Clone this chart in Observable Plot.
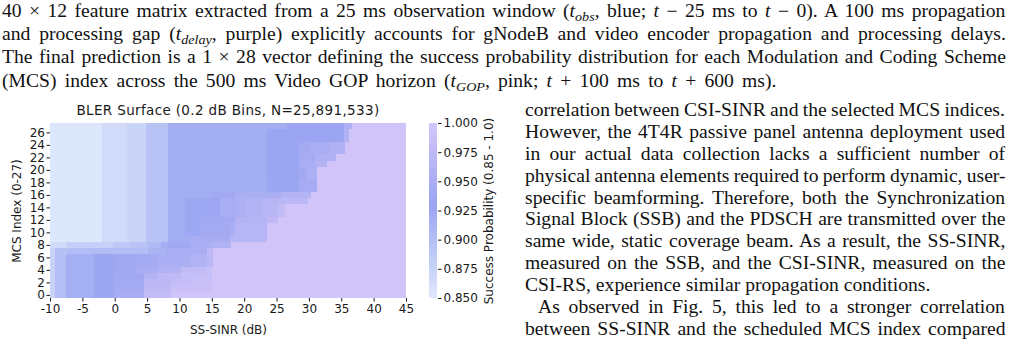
<!DOCTYPE html>
<html><head><meta charset="utf-8">
<script src="https://cdn.jsdelivr.net/npm/d3@7"></script>
<script src="https://cdn.jsdelivr.net/npm/@observablehq/plot@0.6"></script>
<style>
html,body{margin:0;padding:0;background:#fff;}
body{width:1026px;height:343px;overflow:hidden;position:relative;font-family:"Liberation Serif","Times New Roman",serif;color:#111;}
.ln{position:absolute;font-size:18px;line-height:20px;height:20px;white-space:nowrap;transform-origin:0 0;}
.ln sub{font-size:0.72em;line-height:0;vertical-align:-0.28em;font-style:italic;}
#title{position:absolute;left:28px;width:400px;top:102.5px;text-align:center;font-family:"DejaVu Sans";font-size:13.5px;letter-spacing:0.35px;line-height:15px;color:#1a1a1a;}
#main{position:absolute;left:0;top:95px;}
#cbar{position:absolute;left:400px;top:95px;}
</style></head><body>
<div id="text"></div>
<div id="title">BLER Surface (0.2 dB Bins, N=25,891,533)</div>
<div id="main"></div>
<div id="cbar"></div>
<script>
// ---------- text (real text, absolutely positioned lines) ----------
const topLines = [
  '40 × 12 feature matrix extracted from a 25 ms observation window (<i>t</i><sub>obs</sub>, blue; <i>t</i> − 25 ms to <i>t</i> − 0). A 100 ms propagation',
  'and processing gap (<i>t</i><sub>delay</sub>, purple) explicitly accounts for gNodeB and video encoder propagation and processing delays.',
  'The final prediction is a 1 × 28 vector defining the success probability distribution for each Modulation and Coding Scheme',
  '(MCS) index across the 500 ms Video GOP horizon (<i>t</i><sub>GOP</sub>, pink; <i>t</i> + 100 ms to <i>t</i> + 600 ms).'
];
const topBaselines = [17.0, 40.2, 63.4, 86.6];
const topWidths = [1003.5, 1003.5, 1003.5, 774];
const rightLines = [
  'correlation between CSI-SINR and the selected MCS indices.',
  'However, the 4T4R passive panel antenna deployment used',
  'in our actual data collection lacks a sufficient number of',
  'physical antenna elements required to perform dynamic, user-',
  'specific beamforming. Therefore, both the Synchronization',
  'Signal Block (SSB) and the PDSCH are transmitted over the',
  'same wide, static coverage beam. As a result, the SS-SINR,',
  'measured on the SSB, and the CSI-SINR, measured on the',
  'CSI-RS, experience similar propagation conditions.',
  'As observed in Fig. 5, this led to a stronger correlation',
  'between SS-SINR and the scheduled MCS index compared'
];
const rightBaselines = [116.0,137.9,159.8,181.7,203.6,225.5,247.4,269.3,291.2,313.1,335.0];

const stretch = 1.09;
const textBox = document.getElementById('text');
function addLine(html, left, width, baseline, justify) {
  const d = document.createElement('div');
  d.className = 'ln';
  d.style.left = left + 'px';
  d.style.top = (baseline - 16.07) + 'px';
  d.style.transform = 'scaleX(' + stretch + ')';
  const s = document.createElement('span');
  s.innerHTML = html;
  d.appendChild(s);
  textBox.appendChild(d);
  if (justify) {
    const natural = s.offsetWidth;
    const spaces = (s.textContent.match(/ /g) || []).length;
    const target = width / stretch;
    if (spaces > 0) s.style.wordSpacing = ((target - natural) / spaces) + 'px';
  }
}
topLines.forEach((t, i) => addLine(t, 1.5, topWidths[i], topBaselines[i], true));
rightLines.forEach((t, i) => {
  const indent = i === 9 ? 13 : 0;
  addLine(t, 525 + indent, 480 - indent, rightBaselines[i], i !== 8);
});

// ---------- heatmap data: run-length segments [SINR from, SINR to, success prob] ----------
const xTicks = [-10, -5, 0, 5, 10, 15, 20, 25, 30, 35, 40, 45];
const yTicks = [0, 2, 4, 6, 8, 10, 12, 14, 16, 18, 20, 22, 24, 26];
const cbTicks = [0.85, 0.875, 0.9, 0.925, 0.95, 0.975, 1.0];
const colorStops = [0.85, 0.93, 1.0];
const colorRange = ["#dfe9fb", "#9aa4f1", "#d3c6f9"];

// rows 9-27 share these low-SINR columns
const upperLeft = [[-10, -1.9, 0.852], [-1.9, 1.9, 0.866], [1.9, 4.9, 0.874], [4.9, 8.3, 0.895]];
// rows 0-6 share these low-SINR columns
const lowerLeft = [[-10, -9.3, 0.875], [-9.3, -7.6, 0.9], [-7.6, -3.2, 0.917], [-3.2, -0.1, 0.927]];

const r27 = [[8.3, 26.6, 0.92], [26.6, 35.4, 0.929], [35.4, 36.6, 0.955], [36.6, 45, 0.996]];
const r25_26 = [[8.3, 23.6, 0.92], [23.6, 35.4, 0.929], [35.4, 36.2, 0.958], [36.2, 45, 0.996]];
const r23_24 = [[8.3, 23.6, 0.92], [23.6, 28.4, 0.929], [28.4, 30.0, 0.942], [30.0, 33.4, 0.948], [33.4, 35.6, 0.957], [35.6, 45, 0.996]];
const r22 = [[8.3, 23.6, 0.92], [23.6, 28.4, 0.929], [28.4, 31.0, 0.945], [31.0, 34.2, 0.956], [34.2, 45, 0.996]];
const r21 = [[8.3, 23.6, 0.92], [23.6, 28.4, 0.929], [28.4, 31.0, 0.948], [31.0, 32.8, 0.962], [32.8, 45, 0.996]];
const r19_20 = [[8.3, 23.6, 0.92], [23.6, 28.4, 0.929], [28.4, 29.6, 0.94], [29.6, 31.2, 0.952], [31.2, 45, 0.996]];
const r17_18 = [[8.3, 23.6, 0.92], [23.6, 28.4, 0.927], [28.4, 31.2, 0.945], [31.2, 45, 0.996]];
const r16 = [[8.3, 14.9, 0.92], [14.9, 18.6, 0.94], [18.6, 25.8, 0.95], [25.8, 30.4, 0.962], [30.4, 45, 0.996]];
const r15 = [[8.3, 10.9, 0.92], [10.9, 14.9, 0.926], [14.9, 16.2, 0.935], [16.2, 18.6, 0.948], [18.6, 20.1, 0.953], [20.1, 22.7, 0.96], [22.7, 25.3, 0.966], [25.3, 29.9, 0.972], [29.9, 45, 0.996]];
const r13_14 = [[8.3, 10.9, 0.92], [10.9, 14.9, 0.926], [14.9, 16.2, 0.935], [16.2, 18.6, 0.948], [18.6, 20.1, 0.953], [20.1, 22.7, 0.96], [22.7, 25.3, 0.968], [25.3, 26.3, 0.978], [26.3, 45, 0.996]];
const r12 = [[8.3, 10.9, 0.92], [10.9, 13.1, 0.926], [13.1, 18.6, 0.94], [18.6, 23.5, 0.962], [23.5, 25.2, 0.975], [25.2, 45, 0.996]];
const r10_11 = [[8.3, 10.9, 0.92], [10.9, 13.1, 0.926], [13.1, 17.8, 0.942], [17.8, 18.6, 0.95], [18.6, 23.5, 0.965], [23.5, 45, 0.996]];
const r9 = [[8.3, 11.8, 0.92], [11.8, 17.8, 0.946], [17.8, 23.5, 0.965], [23.5, 45, 0.996]];
const r8 = [[-10, -7.6, 0.866], [-7.6, -0.3, 0.88], [-0.3, 2.5, 0.888], [2.5, 5.1, 0.895], [5.1, 7.2, 0.905], [7.2, 8.3, 0.918], [8.3, 11.8, 0.94], [11.8, 14.9, 0.95], [14.9, 18.0, 0.958], [18.0, 45, 0.996]];
const r7 = [[-10, -9.3, 0.875], [-9.3, -7.2, 0.898], [-7.2, 5.1, 0.902], [5.1, 7.9, 0.912], [7.9, 14.2, 0.948], [14.2, 15.2, 0.975], [15.2, 45, 0.996]];
const r5_6 = [[-0.1, 3.3, 0.938], [3.3, 6.7, 0.944], [6.7, 11.8, 0.95], [11.8, 14.2, 0.96], [14.2, 15.2, 0.972], [15.2, 45, 0.996]];
const r4 = [[-0.1, 3.3, 0.938], [3.3, 6.7, 0.948], [6.7, 10.3, 0.958], [10.3, 14.2, 0.978], [14.2, 15.0, 0.986], [15.0, 45, 0.996]];
const r3 = [[-0.1, 4.5, 0.94], [4.5, 6.7, 0.962], [6.7, 10.3, 0.975], [10.3, 15.0, 0.983], [15.0, 45, 0.996]];
const r2 = [[-0.1, 4.5, 0.942], [4.5, 8.7, 0.972], [8.7, 11.8, 0.982], [11.8, 15.0, 0.988], [15.0, 45, 0.996]];
const r1 = [[-0.1, 4.5, 0.944], [4.5, 8.7, 0.976], [8.7, 15.0, 0.988], [15.0, 45, 0.996]];
const r0 = [[-0.1, 4.5, 0.946], [4.5, 8.7, 0.98], [8.7, 45, 0.996]];

// [lowest MCS row, highest MCS row, shared left part, row-specific part]
const bands = [
  [27, 27, upperLeft, r27], [25, 26, upperLeft, r25_26], [23, 24, upperLeft, r23_24],
  [22, 22, upperLeft, r22], [21, 21, upperLeft, r21], [19, 20, upperLeft, r19_20],
  [17, 18, upperLeft, r17_18], [16, 16, upperLeft, r16], [15, 15, upperLeft, r15],
  [13, 14, upperLeft, r13_14], [12, 12, upperLeft, r12], [10, 11, upperLeft, r10_11],
  [9, 9, upperLeft, r9], [8, 8, [], r8], [7, 7, [], r7], [5, 6, lowerLeft, r5_6],
  [4, 4, lowerLeft, r4], [3, 3, lowerLeft, r3], [2, 2, lowerLeft, r2],
  [1, 1, lowerLeft, r1], [0, 0, lowerLeft, r0]
];

const cells = [];
for (const [lo, hi, left, segs] of bands) {
  for (const [a, b, p] of left.concat(segs)) {
    cells.push({x0: a, x1: b, y0: lo - 0.5, y1: hi + 0.5, p});
  }
}

const colorScale = {type: "linear", domain: colorStops, range: colorRange, interpolate: "rgb", clamp: true};
const axisStyle = {fontFamily: "DejaVu Sans", fontSize: "12px", color: "#1a1a1a", background: "transparent", overflow: "visible"};

const main = Plot.plot({
  width: 420, height: 248,
  marginLeft: 50, marginRight: 14, marginTop: 28, marginBottom: 45,
  style: axisStyle,
  x: {domain: [-10, 45], ticks: xTicks, tickSize: 3.5, tickPadding: 2.5, tickFormat: d => String(d),
      label: "SS-SINR (dB)", labelAnchor: "center", labelOffset: 35, labelArrow: "none"},
  y: {domain: [-0.5, 27.5], ticks: yTicks, tickSize: 3.5, tickPadding: 2, tickFormat: d => String(d),
      label: "MCS Index (0-27)", labelAnchor: "center", labelOffset: 38, labelArrow: "none"},
  color: colorScale,
  marks: [
    Plot.rect(cells, {x1: "x0", x2: "x1", y1: "y0", y2: "y1", fill: "p", shapeRendering: "crispEdges"})
  ]
});
document.getElementById('main').appendChild(main);

// colour bar
const cbStep = 0.0015;
const cbCells = d3.range(0, 100).map(i => ({a: 0.85 + i * cbStep, b: 0.85 + (i + 1) * cbStep, v: 0.85 + (i + 0.5) * cbStep}));
const cbar = Plot.plot({
  width: 120, height: 248,
  marginLeft: 29, marginRight: 83, marginTop: 28, marginBottom: 45,
  style: axisStyle,
  x: {domain: [0, 1], axis: null},
  y: {domain: [0.85, 1.0], ticks: cbTicks, tickFormat: ".3f", tickSize: 3.5, tickPadding: 2.5, axis: "right",
      label: "Success Probability (0.85 - 1.0)", labelAnchor: "center", labelOffset: 55, labelArrow: "none"},
  color: colorScale,
  marks: [
    Plot.rect(cbCells, {x1: 0, x2: 1, y1: "a", y2: "b", fill: "v", shapeRendering: "crispEdges"})
  ]
});
document.getElementById('cbar').appendChild(cbar);
</script>
</body></html>
